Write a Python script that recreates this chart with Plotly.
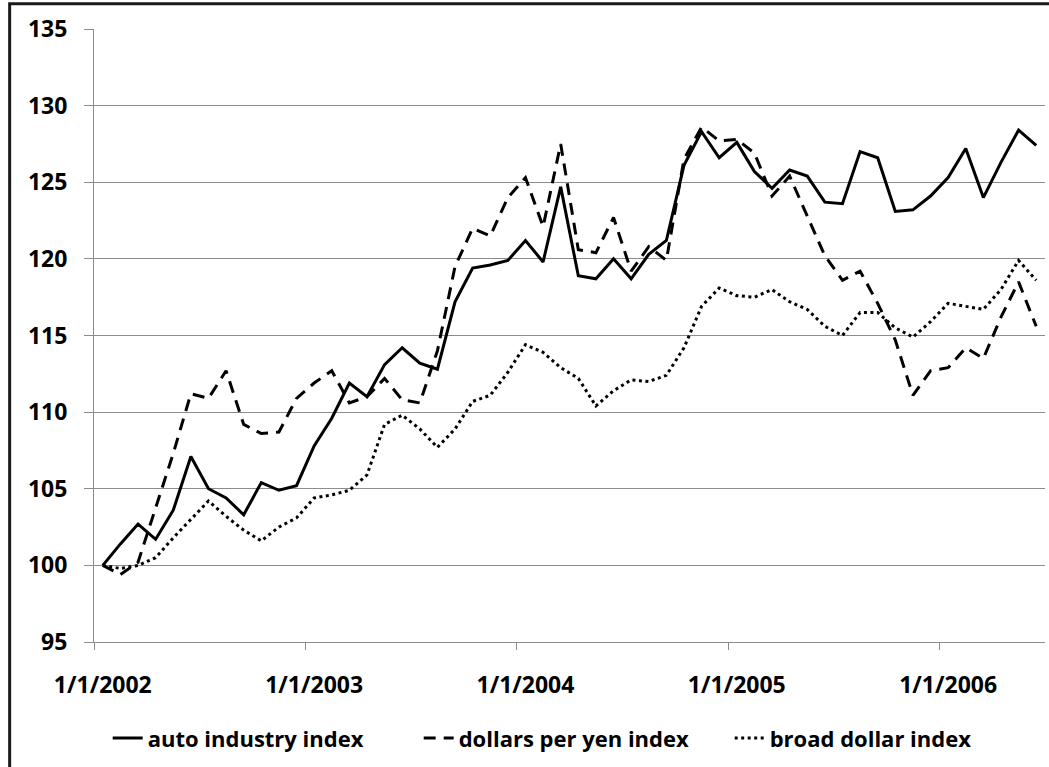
import plotly.graph_objects as go

# Monthly observations, Jan 2002 .. Jun 2006 (index, Jan 2002 = 100)
months = [f"{m}/1/{y}" for y in range(2002, 2007) for m in range(1, 13)][:54]

auto_industry = [
    100.0, 101.4, 102.7, 101.7, 103.6, 107.1, 105.0, 104.4, 103.3, 105.4, 104.9, 105.2,
    107.8, 109.6, 111.9, 111.0, 113.1, 114.2, 113.2, 112.8, 117.2, 119.4, 119.6, 119.9,
    121.2, 119.8, 124.7, 118.9, 118.7, 120.0, 118.7, 120.3, 121.2, 126.1, 128.3, 126.6,
    127.6, 125.7, 124.6, 125.8, 125.4, 123.7, 123.6, 127.0, 126.6, 123.1, 123.2, 124.1,
    125.3, 127.2, 124.0, 126.3, 128.4, 127.4,
]
dollars_per_yen = [
    100.0, 99.4, 100.2, 103.8, 107.3, 111.2, 110.9, 112.7, 109.2, 108.6, 108.7, 110.9,
    111.9, 112.7, 110.6, 111.0, 112.2, 110.8, 110.6, 114.0, 119.5, 122.0, 121.5, 124.0,
    125.3, 122.1, 127.5, 120.6, 120.4, 122.7, 119.2, 120.8, 119.9, 126.5, 128.6, 127.7,
    127.8, 126.9, 124.1, 125.4, 122.8, 120.2, 118.6, 119.2, 117.1, 114.7, 111.1, 112.7,
    112.9, 114.2, 113.5, 116.2, 118.5, 115.6,
]
broad_dollar = [
    100.0, 99.8, 100.0, 100.5, 101.8, 103.0, 104.2, 103.2, 102.3, 101.6, 102.5, 103.1,
    104.4, 104.6, 104.9, 105.9, 109.2, 109.8, 108.9, 107.7, 108.9, 110.7, 111.1, 112.6,
    114.4, 113.9, 112.9, 112.2, 110.4, 111.4, 112.1, 112.0, 112.4, 114.2, 116.9, 118.1,
    117.6, 117.5, 118.0, 117.2, 116.7, 115.6, 115.0, 116.5, 116.5, 115.5, 114.9, 115.9,
    117.1, 116.9, 116.7, 118.0, 119.9, 118.6,
]
series_names = ["auto industry index", "dollars per yen index", "broad dollar index"]
tick_labels = ["1/1/2002", "1/1/2003", "1/1/2004", "1/1/2005", "1/1/2006"]

x = list(range(len(months)))
tick_positions = [months.index(t) for t in tick_labels]

fig = go.Figure()
fig.add_trace(go.Scatter(x=x, y=auto_industry, name=series_names[0], mode="lines",
                         line=dict(color="black", width=3)))
fig.add_trace(go.Scatter(x=x, y=dollars_per_yen, name=series_names[1], mode="lines",
                         line=dict(color="black", width=3, dash="12px,8px")))
fig.add_trace(go.Scatter(x=x, y=broad_dollar, name=series_names[2], mode="lines",
                         line=dict(color="black", width=3, dash="3px,3.5px")))

grid = "#8c8c8c"
fig.update_layout(
    width=1049, height=767,
    margin=dict(l=94, r=4, t=29, b=125),
    paper_bgcolor="white", plot_bgcolor="white",
    font=dict(family="Open Sans", size=23, color="black", weight="bold"),
    showlegend=True,
    legend=dict(orientation="h", x=0.0144, xanchor="left", y=-0.157, yanchor="middle",
                entrywidth=266, entrywidthmode="pixels",
                font=dict(family="Open Sans", size=22, weight="bold"),
                bgcolor="rgba(0,0,0,0)"),
    shapes=[dict(type="rect", xref="paper", yref="paper",
                 x0=-0.0887, x1=1.05, y0=-0.3, y1=1.041,
                 line=dict(color="#1a1a1a", width=3), fillcolor="rgba(0,0,0,0)",
                 layer="below")],
)
fig.update_xaxes(
    range=[-0.5, len(months) - 0.5],
    tickmode="array", tickvals=tick_positions, ticktext=tick_labels,
    ticks="outside", ticklen=0, ticklabelstandoff=22,
    showgrid=False, zeroline=False,
    showline=True, linecolor=grid, linewidth=1,
    minor=dict(tick0=-0.5, dtick=12, ticks="outside", ticklen=7, tickcolor=grid,
               tickwidth=1, showgrid=False),
)
fig.update_yaxes(
    range=[95, 135], dtick=5, tick0=95,
    showgrid=True, gridcolor=grid, gridwidth=1, zeroline=False,
    showline=True, linecolor=grid, linewidth=1,
    ticks="outside", ticklen=9, tickcolor=grid, tickwidth=1,
    ticklabelstandoff=12,
)

fig.write_html("out.html", config={"displayModeBar": False},
               post_script="document.body.style.margin='0';")
